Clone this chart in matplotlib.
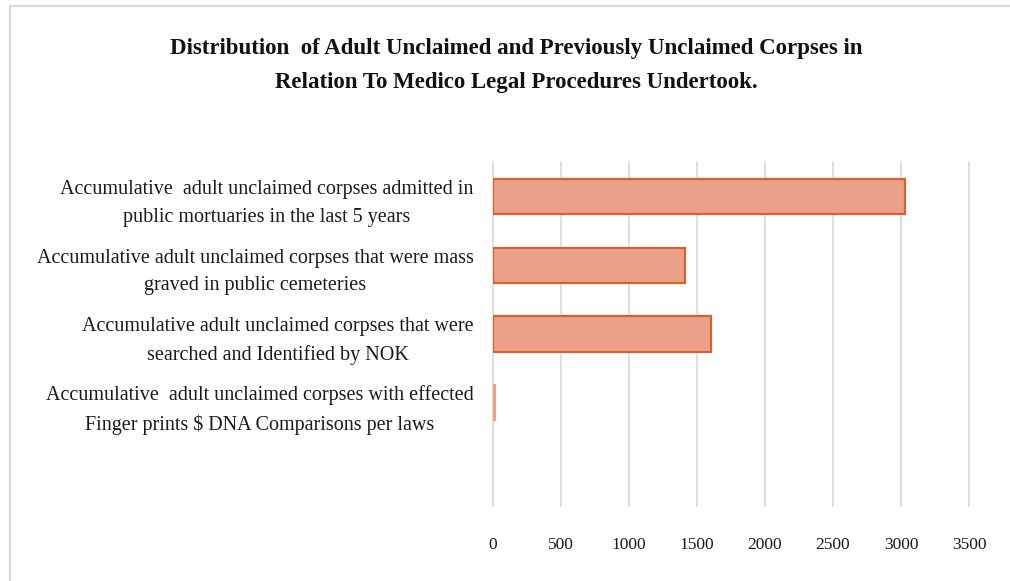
import matplotlib
matplotlib.use('Agg')
import matplotlib.pyplot as plt
from matplotlib.lines import Line2D

categories = [
    "Accumulative  adult unclaimed corpses admitted in\npublic mortuaries in the last 5 years",
    "Accumulative adult unclaimed corpses that were mass\ngraved in public cemeteries",
    "Accumulative adult unclaimed corpses that were\nsearched and Identified by NOK",
    "Accumulative  adult unclaimed corpses with effected\nFinger prints $ DNA Comparisons per laws",
    "",
]
values = [3028, 1413, 1603, 12]
xticks = [0, 500, 1000, 1500, 2000, 2500, 3000, 3500]

title = ("Distribution  of Adult Unclaimed and Previously Unclaimed Corpses in\n"
         "Relation To Medico Legal Procedures Undertook.")

plt.rcParams['font.family'] = ['Liberation Serif', 'DejaVu Serif']

fig = plt.figure(figsize=(10.1, 5.81), dpi=100)
ax = fig.add_axes([0.4881, 0.1291, 0.4713, 0.5921])

pos = list(range(len(values)))
edges = ['#D2642C', '#D2642C', '#D2642C', '#EDA283']
ax.barh(pos, values, height=0.51, color='#EBA08A', edgecolor=edges, linewidth=1.6, zorder=3)

ax.set_yticks(range(len(categories)))
ax.set_yticklabels(categories, fontsize=14.5, multialignment='center',
                   linespacing=1.62, color='#1a1a1a')
ax.set_ylim(len(categories) - 0.5, -0.5)

ax.set_xlim(0, 3500)
ax.set_xticks(xticks)
ax.set_xticklabels([str(t) for t in xticks], fontsize=12.5, color='#1a1a1a')
ax.tick_params(axis='y', length=0, pad=14)
ax.tick_params(axis='x', length=0, pad=22)
ax.grid(axis='x', color='#D9D9D9', linewidth=1.2, zorder=0)
for gl in ax.xaxis.get_gridlines():
    gl.set_clip_on(False)
for s in ax.spines.values():
    s.set_visible(False)

fig.text(0.511, 1 - 38 / 581, title, ha='center', va='top', fontsize=16.5,
         fontweight='bold', linespacing=1.8, color='#111111')

# outer frame
fig.add_artist(Line2D([10 / 1010, 1], [1 - 6 / 581, 1 - 6 / 581], color='#D9D9D9', lw=1.5))
fig.add_artist(Line2D([10 / 1010, 10 / 1010], [0, 1 - 6 / 581], color='#D9D9D9', lw=1.5))

fig.savefig('out.png', dpi=100)
